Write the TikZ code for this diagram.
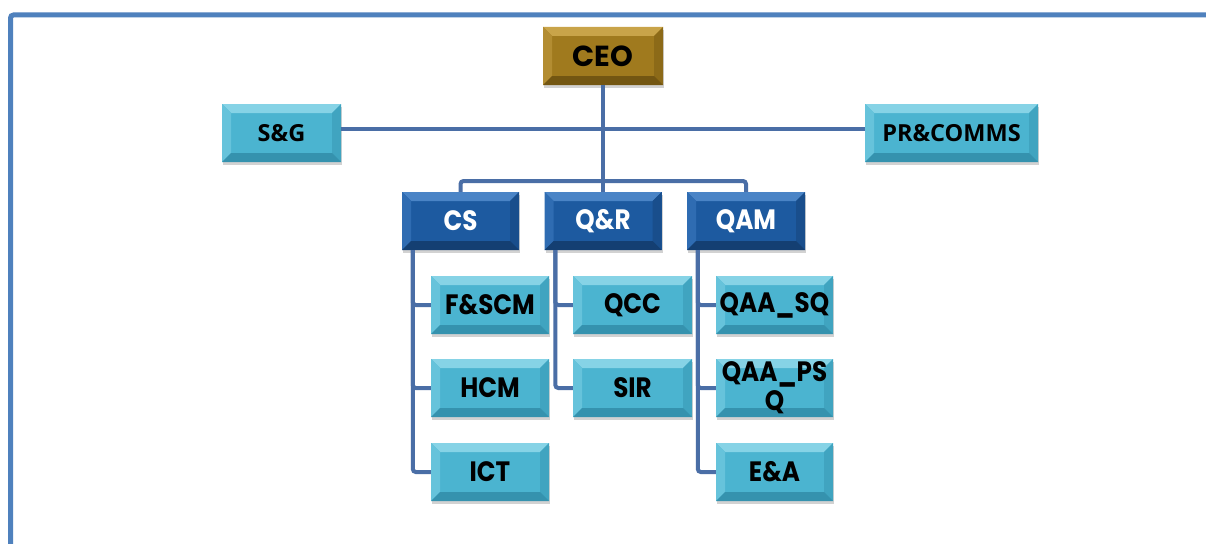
\documentclass[tikz,border=0pt]{standalone}
\usepackage{fontspec}
\setmainfont{Poppins}[FakeStretch=0.88]
\newfontfamily\ceofont{Poppins}
\newfontfamily\sidefont{Open Sans}
\usetikzlibrary{shadows}

\definecolor{frameblue}{HTML}{4F81BD}
\definecolor{linkblue}{HTML}{4A6EA6}
% light cyan boxes
\definecolor{cyanbase}{HTML}{4BB4D0}
\definecolor{cyantop}{HTML}{86D3E6}
\definecolor{cyanleft}{HTML}{66C3DB}
\definecolor{cyanright}{HTML}{40A4C0}
\definecolor{cyanbot}{HTML}{3592AE}
% dark blue boxes
\definecolor{navybase}{HTML}{1D5AA0}
\definecolor{navytop}{HTML}{4A84C6}
\definecolor{navyleft}{HTML}{2F6CB2}
\definecolor{navyright}{HTML}{194E8C}
\definecolor{navybot}{HTML}{143F72}
% gold box
\definecolor{goldbase}{HTML}{A07A1E}
\definecolor{goldtop}{HTML}{C9A449}
\definecolor{goldleft}{HTML}{B38D32}
\definecolor{goldright}{HTML}{8C6A18}
\definecolor{goldbot}{HTML}{735612}

% bevelled face: top, left, right, bottom strips
\newcommand\bevelface[4]{%
  \coordinate (bnw) at (path picture bounding box.north west);
  \coordinate (bne) at (path picture bounding box.north east);
  \coordinate (bse) at (path picture bounding box.south east);
  \coordinate (bsw) at (path picture bounding box.south west);
  \fill[#1] (bnw) -- (bne) -- ([xshift=-9pt,yshift=-9pt]bne) -- ([xshift=9pt,yshift=-9pt]bnw) -- cycle;
  \fill[#2] (bnw) -- ([xshift=9pt,yshift=-9pt]bnw) -- ([xshift=9pt,yshift=9pt]bsw) -- (bsw) -- cycle;
  \fill[#3] (bne) -- ([xshift=-9pt,yshift=-9pt]bne) -- ([xshift=-9pt,yshift=9pt]bse) -- (bse) -- cycle;
  \fill[#4] (bsw) -- ([xshift=9pt,yshift=9pt]bsw) -- ([xshift=-9pt,yshift=9pt]bse) -- (bse) -- cycle;
}

\tikzset{
  x=1pt, y=-1pt,
  unit/.style={rectangle, inner sep=0pt, minimum width=118pt, minimum height=58pt,
    align=center, font=\bfseries\fontsize{28}{29}\selectfont,
    drop shadow={opacity=0.35, shadow xshift=1pt, shadow yshift=-3pt}},
  cyanbox/.style={unit, fill=cyanbase, text=black,
    path picture={\bevelface{cyantop}{cyanleft}{cyanright}{cyanbot}}},
  navybox/.style={unit, fill=navybase, text=white,
    path picture={\bevelface{navytop}{navyleft}{navyright}{navybot}}},
  goldbox/.style={unit, fill=goldbase, text=black,
    path picture={\bevelface{goldtop}{goldleft}{goldright}{goldbot}}},
  ceotext/.style={font=\ceofont\bfseries\fontsize{29}{30}\selectfont},
  sidetext/.style={font=\sidefont\bfseries\fontsize{23.5}{28}\selectfont},
  link/.style={draw=linkblue, line width=4pt, rounded corners=3pt},
}

\begin{document}
\begin{tikzpicture}
\useasboundingbox (0,0) rectangle (1206,543);
\fill[white] (0,0) rectangle (1206,543);
% page frame
\draw[frameblue, line width=5pt, rounded corners=3pt] (10.5,15) rectangle (1230,570);

\coordinate (bus) at (603,181);

% boxes
\node[goldbox, ceotext, minimum width=120pt] (CEO) at (603,56) {CEO};
\node[cyanbox, sidetext, minimum width=119pt] (SG) at (281.5,133) {S\&G};
\node[cyanbox, sidetext, minimum width=173pt] (PR) at (951.5,133) {PR\&COMMS};

\node[navybox, minimum width=117pt] (CS) at (460.5,221) {CS};
\node[navybox, minimum width=117pt] (QR) at (603,221) {Q\&R};
\node[navybox] (QAM) at (746,221) {QAM};

\node[cyanbox] (FSCM) at (490,305) {F\&SCM};
\node[cyanbox] (HCM) at (490,388) {HCM};
\node[cyanbox] (ICT) at (490,472) {ICT};

\node[cyanbox, minimum width=119pt] (QCC) at (632.5,305) {QCC};
\node[cyanbox, minimum width=119pt] (SIR) at (632.5,388) {SIR};

\node[cyanbox, minimum width=117pt] (QAASQ) at (774.5,305) {QAA\_SQ};
\node[cyanbox, minimum width=117pt] (QAAPSQ) at (774.5,388) {QAA\_PS\\Q};
\node[cyanbox, minimum width=117pt] (EA) at (774.5,472) {E\&A};

% links
\draw[link] (SG.east |- 0,129) -- (PR.west |- 0,129);
\draw[link] (CEO.south) -- (QR.north);
\draw[link] (CS.north) |- (bus) -| (QAM.north);

\draw[link] ([xshift=11pt]CS.south west) |- (FSCM.west);
\draw[link] ([xshift=11pt]CS.south west) |- (HCM.west);
\draw[link] ([xshift=11pt]CS.south west) |- (ICT.west);

\draw[link] ([xshift=11pt]QR.south west) |- (QCC.west);
\draw[link] ([xshift=11pt]QR.south west) |- (SIR.west);

\draw[link] ([xshift=11pt]QAM.south west) |- (QAASQ.west);
\draw[link] ([xshift=11pt]QAM.south west) |- (QAAPSQ.west);
\draw[link] ([xshift=11pt]QAM.south west) |- (EA.west);
\end{tikzpicture}
\end{document}
